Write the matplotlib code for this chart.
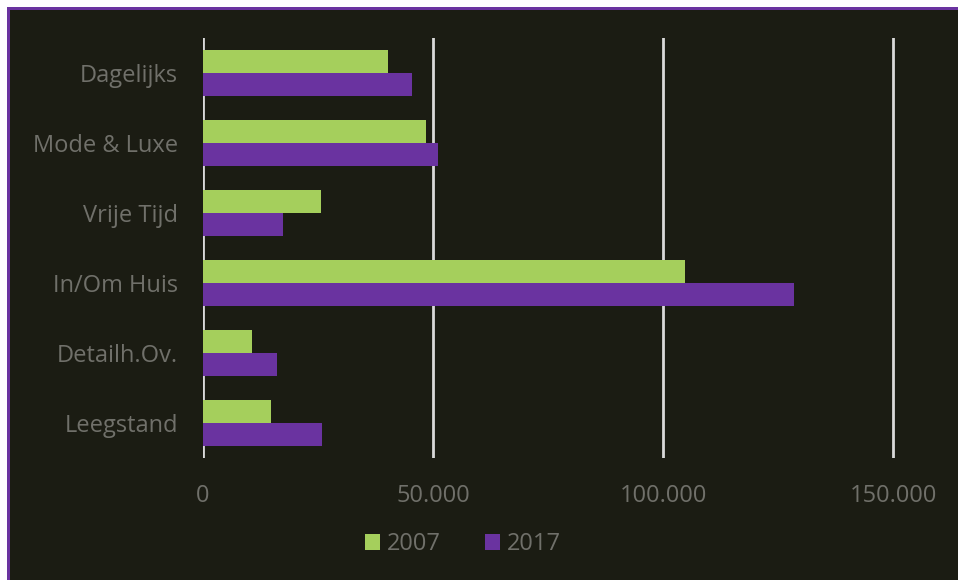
import matplotlib.pyplot as plt
from matplotlib.patches import Rectangle
from matplotlib.ticker import FuncFormatter
import numpy as np

categories = ['Dagelijks', 'Mode & Luxe', 'Vrije Tijd', 'In/Om Huis', 'Detailh.Ov.', 'Leegstand']
values_2007 = [40200, 48500, 25600, 104800, 10600, 14800]
values_2017 = [45400, 51100, 17400, 128500, 16100, 25900]
series_labels = ['2007', '2017']

BG = '#1b1c13'
GREEN = '#a5cf5c'
PURPLE = '#6a33a0'
TEXT = '#70706a'

plt.rcParams['font.family'] = ['Open Sans', 'DejaVu Sans']

W, H = 958, 580
fig = plt.figure(figsize=(W / 100, H / 100), dpi=100, facecolor=BG)

# white strip on the left and top edges with a purple frame line
fig.patches.append(Rectangle((0, 0), 7 / W, 1, transform=fig.transFigure,
                             facecolor='white', edgecolor='none', zorder=0))
fig.patches.append(Rectangle((0, 1 - 7 / H), 1, 7 / H, transform=fig.transFigure,
                             facecolor='white', edgecolor='none', zorder=0))
fig.patches.append(Rectangle((7 / W, 0), 2.5 / W, 1 - 7 / H, transform=fig.transFigure,
                             facecolor=PURPLE, edgecolor='none', zorder=1))
fig.patches.append(Rectangle((7 / W, 1 - 9.5 / H), 1, 2.5 / H, transform=fig.transFigure,
                             facecolor=PURPLE, edgecolor='none', zorder=1))

ax = fig.add_axes([203 / W, (H - 458) / H, (939 - 203) / W, 420 / H])
ax.set_facecolor(BG)

y = np.arange(len(categories))
h = 0.33
ax.barh(y - h / 2, values_2007, height=h, color=GREEN, label=series_labels[0], zorder=3)
ax.barh(y + h / 2, values_2017, height=h, color=PURPLE, label=series_labels[1], zorder=3)

ax.set_ylim(len(categories) - 0.5, -0.5)
ax.set_xlim(0, 160000)
ax.set_xticks([0, 50000, 100000, 150000])
ax.xaxis.set_major_formatter(FuncFormatter(lambda v, p: f'{int(v):,}'.replace(',', '.')))
ax.set_yticks(y)
ax.set_yticklabels(categories)
ax.grid(axis='x', color='#d9d9d9', linewidth=2, zorder=1)
for s in ax.spines.values():
    s.set_visible(False)
ax.tick_params(axis='both', length=0, colors=TEXT, labelsize=17)
ax.tick_params(axis='x', pad=19)
ax.tick_params(axis='y', pad=18)

leg = fig.legend(loc='center', bbox_to_anchor=(463 / W, 1 - 544 / H), ncol=2,
                 frameon=False, fontsize=17, handlelength=0.65, handleheight=0.65,
                 handletextpad=0.3, columnspacing=1.85)
for t in leg.get_texts():
    t.set_color(TEXT)

fig.savefig('out.png', dpi=100, facecolor=BG)
